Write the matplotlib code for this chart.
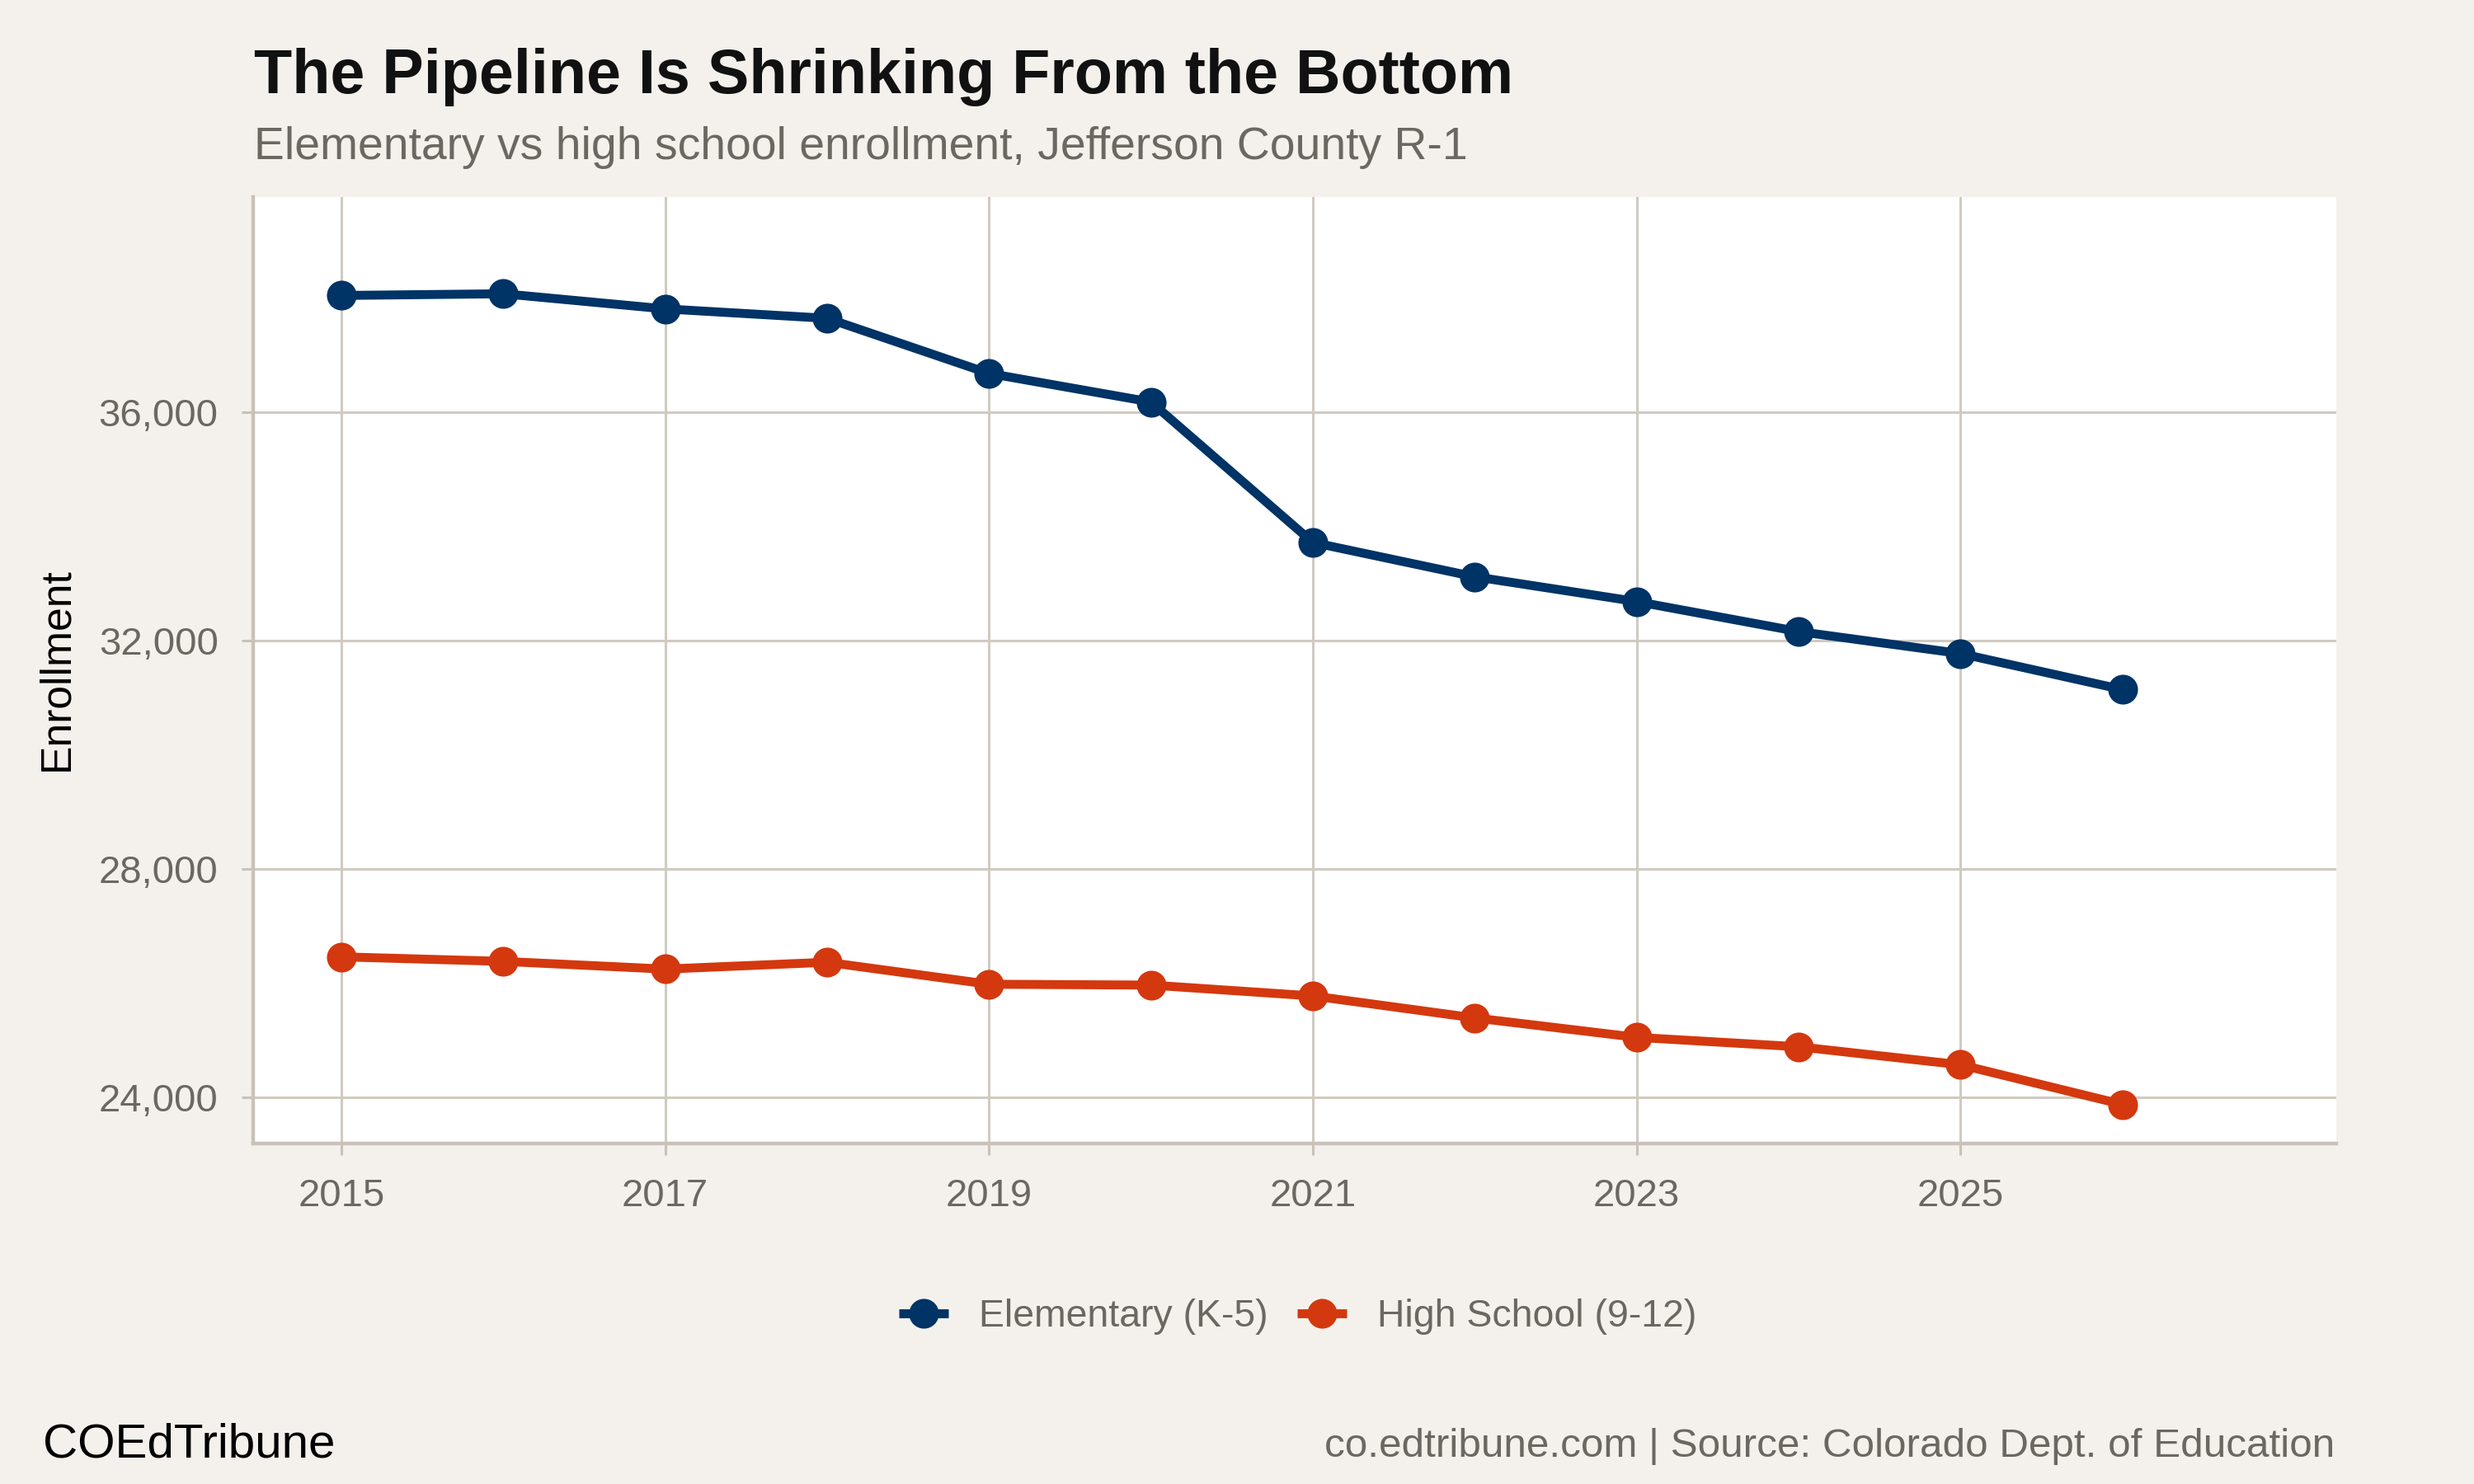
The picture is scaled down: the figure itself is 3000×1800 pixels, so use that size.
import matplotlib
matplotlib.use('Agg')
import matplotlib.pyplot as plt
from matplotlib.ticker import FuncFormatter

# data
years = [2015, 2016, 2017, 2018, 2019, 2020, 2021, 2022, 2023, 2024, 2025, 2026]
elementary = [38045, 38075, 37810, 37645, 36680, 36180, 33720, 33120, 32685, 32160, 31775, 31145]
high_school = [26465, 26385, 26250, 26370, 25985, 25970, 25780, 25395, 25055, 24890, 24575, 23880]

x_ticks = [2015, 2017, 2019, 2021, 2023, 2025]
y_ticks = [24000, 28000, 32000, 36000]

navy = '#003366'
orange = '#D4380E'
bg = '#F4F1EC'
grid_col = '#D0CAC1'
axis_col = '#C8C2B8'
gray_txt = '#6B6862'

plt.rcParams['font.family'] = ['Liberation Sans', 'DejaVu Sans']

fig = plt.figure(figsize=(15, 9), dpi=200, facecolor=bg)
ax = fig.add_axes([0.1023, 0.2294, 0.8420, 0.6378])
ax.set_facecolor('white')

ax.plot(years, elementary, color=navy, lw=3.9, marker='o', ms=12,
        label='Elementary (K-5)', zorder=3, solid_capstyle='butt')
ax.plot(years, high_school, color=orange, lw=3.9, marker='o', ms=12,
        label='High School (9-12)', zorder=3, solid_capstyle='butt')

ax.set_xlim(2014.455, 2027.32)
ax.set_ylim(23195, 39768)
ax.set_xticks(x_ticks)
ax.set_yticks(y_ticks)
ax.yaxis.set_major_formatter(FuncFormatter(lambda v, p: f'{int(v):,}'))

ax.grid(True, color=grid_col, lw=1.1, zorder=0)
ax.set_axisbelow(True)
for s in ['top', 'right']:
    ax.spines[s].set_visible(False)
for s in ['left', 'bottom']:
    ax.spines[s].set_color(axis_col)
    ax.spines[s].set_linewidth(1.6)

ax.tick_params(axis='both', colors=axis_col, width=1.1, length=5.2,
               labelcolor=gray_txt, labelsize=17, pad=10)

fig.text(69 / 3000, 1 - 812 / 1800, 'Enrollment', rotation=90, ha='center', va='center',
         fontsize=18.6, color='black')

fig.text(308 / 3000, 1 - 113 / 1800, 'The Pipeline Is Shrinking From the Bottom',
         fontsize=27.2, fontweight='bold', color='#111111', va='baseline', ha='left')
fig.text(308 / 3000, 1 - 193 / 1800, 'Elementary vs high school enrollment, Jefferson County R-1',
         fontsize=19.9, color=gray_txt, va='baseline', ha='left')

leg = fig.legend(loc='center', bbox_to_anchor=(0.5245, 1 - 1597 / 1800), ncol=2,
                 frameon=False, fontsize=16.7, handlelength=1.3, handletextpad=0.8,
                 columnspacing=0.75, labelcolor=gray_txt)

fig.text(52 / 3000, 1 - 1767 / 1800, 'COEdTribune', fontsize=21, color='black',
         va='baseline', ha='left')
fig.text(2831 / 3000, 1 - 1767 / 1800, 'co.edtribune.com | Source: Colorado Dept. of Education',
         fontsize=17.8, color=gray_txt, va='baseline', ha='right')

fig.savefig('out.png', dpi=200, facecolor=bg)
